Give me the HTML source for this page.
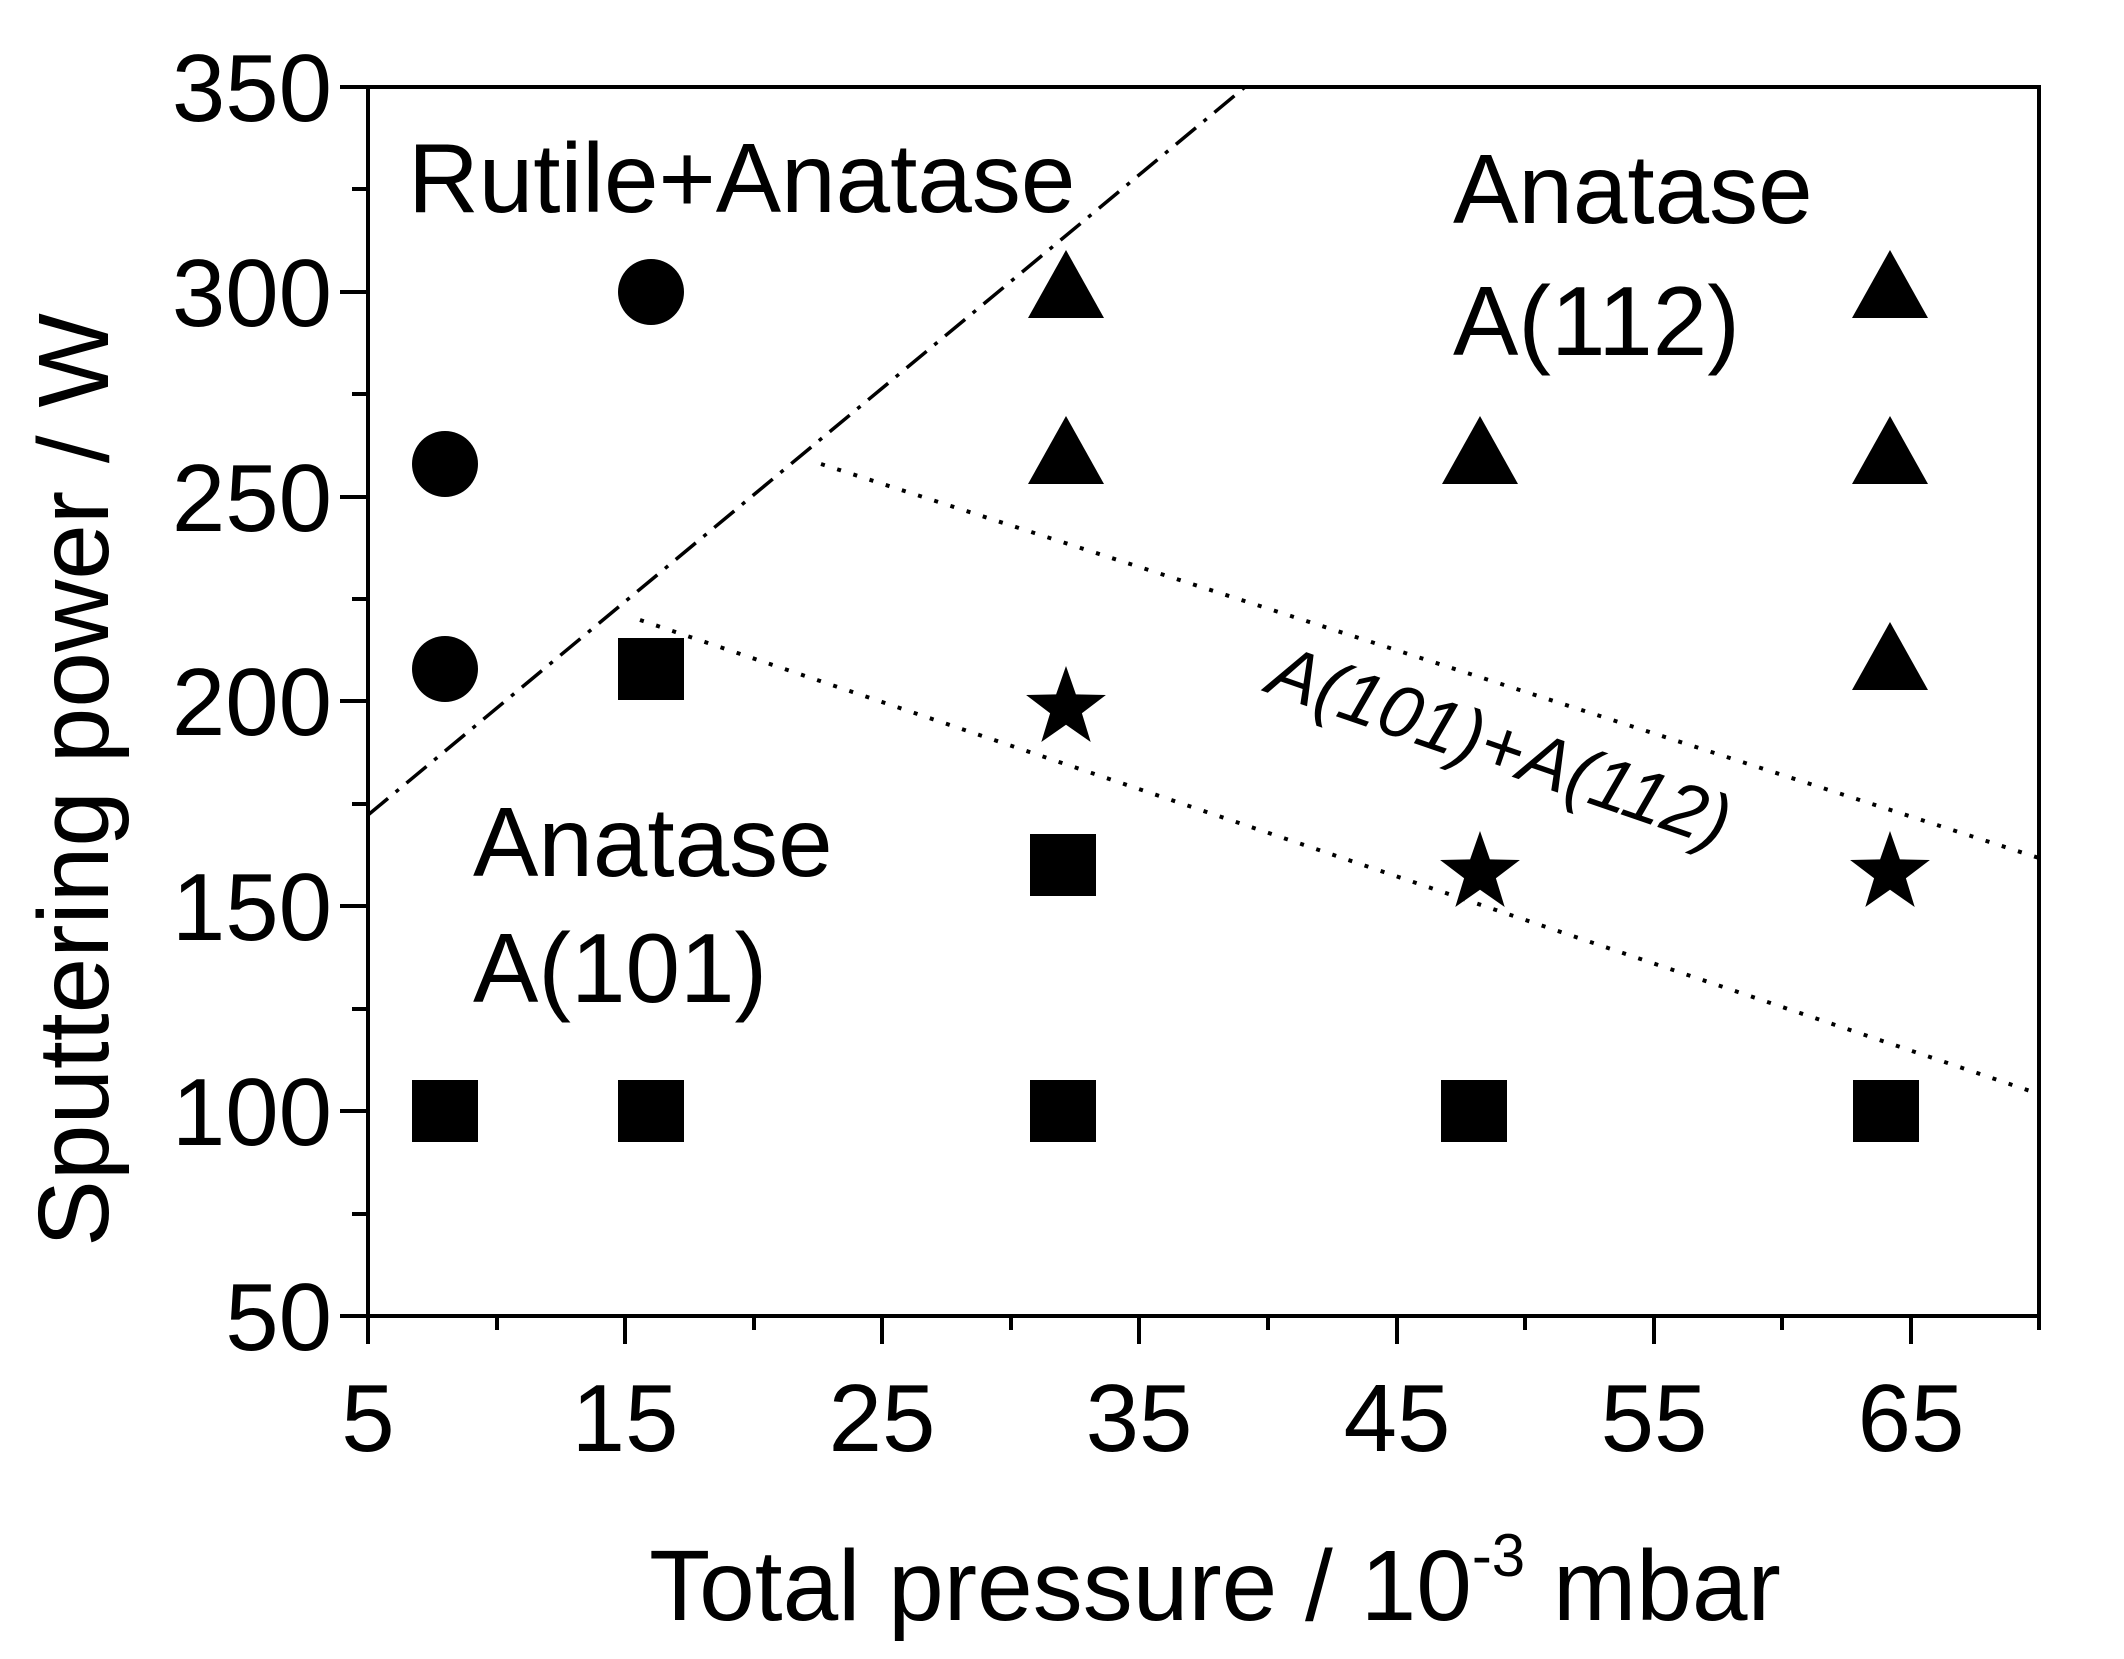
<!DOCTYPE html>
<html><head><meta charset="utf-8"><style>
html,body{margin:0;padding:0;background:#fff;}
svg{display:block;}
text{font-family:"Liberation Sans",Arial,sans-serif;fill:#000;}
</style></head><body>
<svg width="2124" height="1659" viewBox="0 0 2124 1659" xmlns="http://www.w3.org/2000/svg">
<defs>
<polygon id="star" points="0,-42 9.9,-13.6 39.9,-13 15.9,5.2 24.7,34 0,16.8 -24.7,34 -15.9,5.2 -39.9,-13 -9.9,-13.6" fill="#000"/>
<polygon id="tri" points="0,-40 38,28 -38,28" fill="#000"/>
<rect id="sq" x="-33" y="-31" width="66" height="62" fill="#000"/>
<circle id="ci" r="33" fill="#000"/>
</defs>
<rect x="368" y="87" width="1671" height="1229" fill="none" stroke="#000" stroke-width="4"/>
<g stroke="#000" stroke-width="4">
<line x1="340" y1="1316" x2="368" y2="1316"/><line x1="352" y1="1214" x2="368" y2="1214"/>
<line x1="340" y1="1111" x2="368" y2="1111"/><line x1="352" y1="1009" x2="368" y2="1009"/>
<line x1="340" y1="906" x2="368" y2="906"/><line x1="352" y1="804" x2="368" y2="804"/>
<line x1="340" y1="701" x2="368" y2="701"/><line x1="352" y1="599" x2="368" y2="599"/>
<line x1="340" y1="497" x2="368" y2="497"/><line x1="352" y1="394" x2="368" y2="394"/>
<line x1="340" y1="292" x2="368" y2="292"/><line x1="352" y1="189" x2="368" y2="189"/>
<line x1="340" y1="87" x2="368" y2="87"/>
<line x1="368" y1="1316" x2="368" y2="1344"/><line x1="497" y1="1316" x2="497" y2="1330"/>
<line x1="625" y1="1316" x2="625" y2="1344"/><line x1="754" y1="1316" x2="754" y2="1330"/>
<line x1="882" y1="1316" x2="882" y2="1344"/><line x1="1011" y1="1316" x2="1011" y2="1330"/>
<line x1="1139" y1="1316" x2="1139" y2="1344"/><line x1="1268" y1="1316" x2="1268" y2="1330"/>
<line x1="1397" y1="1316" x2="1397" y2="1344"/><line x1="1525" y1="1316" x2="1525" y2="1330"/>
<line x1="1654" y1="1316" x2="1654" y2="1344"/><line x1="1782" y1="1316" x2="1782" y2="1330"/>
<line x1="1911" y1="1316" x2="1911" y2="1344"/><line x1="2039" y1="1316" x2="2039" y2="1330"/>
</g>
<line x1="368" y1="815" x2="1245" y2="87" stroke="#000" stroke-width="3.5" stroke-dasharray="26,10,4,10"/>
<line x1="821" y1="464" x2="2039" y2="858" stroke="#000" stroke-width="4" stroke-dasharray="4,13"/>
<line x1="640" y1="620" x2="2039" y2="1094" stroke="#000" stroke-width="4" stroke-dasharray="4,13"/>
<g font-size="96" text-anchor="end">
<text x="332" y="1350">50</text><text x="332" y="1145">100</text><text x="332" y="940">150</text>
<text x="332" y="735">200</text><text x="332" y="531">250</text><text x="332" y="326">300</text>
<text x="332" y="121">350</text>
</g>
<g font-size="96" text-anchor="middle">
<text x="368" y="1451">5</text><text x="625" y="1451">15</text><text x="882" y="1451">25</text>
<text x="1139" y="1451">35</text><text x="1397" y="1451">45</text><text x="1654" y="1451">55</text>
<text x="1911" y="1451">65</text>
</g>
<text x="1215" y="1620" font-size="100" text-anchor="middle">Total pressure / 10<tspan font-size="60" dy="-44">-3</tspan><tspan dy="44"> mbar</tspan></text>
<text transform="translate(108,780) rotate(-90)" font-size="100" text-anchor="middle">Sputtering power / W</text>
<g font-size="98">
<text x="408" y="212">Rutile+Anatase</text>
<text x="1453" y="223">Anatase</text><text x="1453" y="355">A(112)</text>
<text x="473" y="876">Anatase</text><text x="473" y="1002">A(101)</text>
</g>
<text transform="translate(1492,770) rotate(19)" font-size="74" font-style="italic" text-anchor="middle">A(101)+A(112)</text>
<use href="#ci" x="445" y="669"/><use href="#ci" x="445" y="464"/><use href="#ci" x="651" y="292"/>
<use href="#sq" x="445" y="1111"/><use href="#sq" x="651" y="1111"/><use href="#sq" x="1063" y="1111"/>
<use href="#sq" x="1474" y="1111"/><use href="#sq" x="1886" y="1111"/>
<use href="#sq" x="651" y="669"/><use href="#sq" x="1063" y="865"/>
<use href="#tri" x="1066" y="290"/><use href="#tri" x="1066" y="456"/><use href="#tri" x="1480" y="456"/>
<use href="#tri" x="1890" y="290"/><use href="#tri" x="1890" y="456"/><use href="#tri" x="1890" y="662"/>
<use href="#star" x="1066" y="708"/><use href="#star" x="1480" y="873"/><use href="#star" x="1890" y="873"/>
</svg>
</body></html>
